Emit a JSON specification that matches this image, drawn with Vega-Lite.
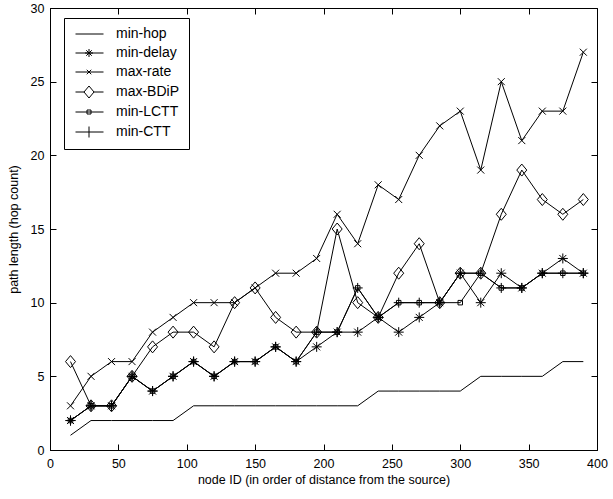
{
  "$schema": "https://vega.github.io/schema/vega-lite/v6.json",
  "width": 547,
  "height": 442,
  "autosize": {"type": "none"},
  "padding": {"left": 50, "top": 8, "right": 16, "bottom": 49},
  "background": "white",
  "config": {
    "view": {"stroke": "black", "strokeWidth": 1},
    "font": "Liberation Sans",
    "axis": {
      "labelFont": "Liberation Sans",
      "titleFont": "Liberation Sans",
      "labelFontSize": 12.5,
      "titleFontSize": 12.5,
      "titleFontWeight": "normal",
      "labelColor": "black",
      "titleColor": "black",
      "domainColor": "black",
      "tickColor": "black",
      "tickOpacity": 1,
      "tickWidth": 1,
      "grid": false
    }
  },
  "data": {
    "values": [
      {"node": 15, "series": "min-hop", "len": 1}, {"node": 30, "series": "min-hop", "len": 2}, {"node": 45, "series": "min-hop", "len": 2}, {"node": 60, "series": "min-hop", "len": 2}, {"node": 75, "series": "min-hop", "len": 2}, {"node": 90, "series": "min-hop", "len": 2}, {"node": 105, "series": "min-hop", "len": 3}, {"node": 120, "series": "min-hop", "len": 3}, {"node": 135, "series": "min-hop", "len": 3}, {"node": 150, "series": "min-hop", "len": 3}, {"node": 165, "series": "min-hop", "len": 3}, {"node": 180, "series": "min-hop", "len": 3}, {"node": 195, "series": "min-hop", "len": 3}, {"node": 210, "series": "min-hop", "len": 3}, {"node": 225, "series": "min-hop", "len": 3}, {"node": 240, "series": "min-hop", "len": 4}, {"node": 255, "series": "min-hop", "len": 4}, {"node": 270, "series": "min-hop", "len": 4}, {"node": 285, "series": "min-hop", "len": 4}, {"node": 300, "series": "min-hop", "len": 4}, {"node": 315, "series": "min-hop", "len": 5}, {"node": 330, "series": "min-hop", "len": 5}, {"node": 345, "series": "min-hop", "len": 5}, {"node": 360, "series": "min-hop", "len": 5}, {"node": 375, "series": "min-hop", "len": 6}, {"node": 390, "series": "min-hop", "len": 6},
      {"node": 15, "series": "min-delay", "len": 2}, {"node": 30, "series": "min-delay", "len": 3}, {"node": 45, "series": "min-delay", "len": 3}, {"node": 60, "series": "min-delay", "len": 5}, {"node": 75, "series": "min-delay", "len": 4}, {"node": 90, "series": "min-delay", "len": 5}, {"node": 105, "series": "min-delay", "len": 6}, {"node": 120, "series": "min-delay", "len": 5}, {"node": 135, "series": "min-delay", "len": 6}, {"node": 150, "series": "min-delay", "len": 6}, {"node": 165, "series": "min-delay", "len": 7}, {"node": 180, "series": "min-delay", "len": 6}, {"node": 195, "series": "min-delay", "len": 7}, {"node": 210, "series": "min-delay", "len": 8}, {"node": 225, "series": "min-delay", "len": 8}, {"node": 240, "series": "min-delay", "len": 9}, {"node": 255, "series": "min-delay", "len": 8}, {"node": 270, "series": "min-delay", "len": 9}, {"node": 285, "series": "min-delay", "len": 10}, {"node": 300, "series": "min-delay", "len": 12}, {"node": 315, "series": "min-delay", "len": 10}, {"node": 330, "series": "min-delay", "len": 12}, {"node": 345, "series": "min-delay", "len": 11}, {"node": 360, "series": "min-delay", "len": 12}, {"node": 375, "series": "min-delay", "len": 13}, {"node": 390, "series": "min-delay", "len": 12},
      {"node": 15, "series": "max-rate", "len": 3}, {"node": 30, "series": "max-rate", "len": 5}, {"node": 45, "series": "max-rate", "len": 6}, {"node": 60, "series": "max-rate", "len": 6}, {"node": 75, "series": "max-rate", "len": 8}, {"node": 90, "series": "max-rate", "len": 9}, {"node": 105, "series": "max-rate", "len": 10}, {"node": 120, "series": "max-rate", "len": 10}, {"node": 135, "series": "max-rate", "len": 10}, {"node": 150, "series": "max-rate", "len": 11}, {"node": 165, "series": "max-rate", "len": 12}, {"node": 180, "series": "max-rate", "len": 12}, {"node": 195, "series": "max-rate", "len": 13}, {"node": 210, "series": "max-rate", "len": 16}, {"node": 225, "series": "max-rate", "len": 14}, {"node": 240, "series": "max-rate", "len": 18}, {"node": 255, "series": "max-rate", "len": 17}, {"node": 270, "series": "max-rate", "len": 20}, {"node": 285, "series": "max-rate", "len": 22}, {"node": 300, "series": "max-rate", "len": 23}, {"node": 315, "series": "max-rate", "len": 19}, {"node": 330, "series": "max-rate", "len": 25}, {"node": 345, "series": "max-rate", "len": 21}, {"node": 360, "series": "max-rate", "len": 23}, {"node": 375, "series": "max-rate", "len": 23}, {"node": 390, "series": "max-rate", "len": 27},
      {"node": 15, "series": "max-BDiP", "len": 6}, {"node": 30, "series": "max-BDiP", "len": 3}, {"node": 45, "series": "max-BDiP", "len": 3}, {"node": 60, "series": "max-BDiP", "len": 5}, {"node": 75, "series": "max-BDiP", "len": 7}, {"node": 90, "series": "max-BDiP", "len": 8}, {"node": 105, "series": "max-BDiP", "len": 8}, {"node": 120, "series": "max-BDiP", "len": 7}, {"node": 135, "series": "max-BDiP", "len": 10}, {"node": 150, "series": "max-BDiP", "len": 11}, {"node": 165, "series": "max-BDiP", "len": 9}, {"node": 180, "series": "max-BDiP", "len": 8}, {"node": 195, "series": "max-BDiP", "len": 8}, {"node": 210, "series": "max-BDiP", "len": 15}, {"node": 225, "series": "max-BDiP", "len": 10}, {"node": 240, "series": "max-BDiP", "len": 9}, {"node": 255, "series": "max-BDiP", "len": 12}, {"node": 270, "series": "max-BDiP", "len": 14}, {"node": 285, "series": "max-BDiP", "len": 10}, {"node": 300, "series": "max-BDiP", "len": 12}, {"node": 315, "series": "max-BDiP", "len": 12}, {"node": 330, "series": "max-BDiP", "len": 16}, {"node": 345, "series": "max-BDiP", "len": 19}, {"node": 360, "series": "max-BDiP", "len": 17}, {"node": 375, "series": "max-BDiP", "len": 16}, {"node": 390, "series": "max-BDiP", "len": 17},
      {"node": 15, "series": "min-LCTT", "len": 2}, {"node": 30, "series": "min-LCTT", "len": 3}, {"node": 45, "series": "min-LCTT", "len": 3}, {"node": 60, "series": "min-LCTT", "len": 5}, {"node": 75, "series": "min-LCTT", "len": 4}, {"node": 90, "series": "min-LCTT", "len": 5}, {"node": 105, "series": "min-LCTT", "len": 6}, {"node": 120, "series": "min-LCTT", "len": 5}, {"node": 135, "series": "min-LCTT", "len": 6}, {"node": 150, "series": "min-LCTT", "len": 6}, {"node": 165, "series": "min-LCTT", "len": 7}, {"node": 180, "series": "min-LCTT", "len": 6}, {"node": 195, "series": "min-LCTT", "len": 8}, {"node": 210, "series": "min-LCTT", "len": 8}, {"node": 225, "series": "min-LCTT", "len": 11}, {"node": 240, "series": "min-LCTT", "len": 9}, {"node": 255, "series": "min-LCTT", "len": 10}, {"node": 270, "series": "min-LCTT", "len": 10}, {"node": 285, "series": "min-LCTT", "len": 10}, {"node": 300, "series": "min-LCTT", "len": 10}, {"node": 315, "series": "min-LCTT", "len": 12}, {"node": 330, "series": "min-LCTT", "len": 11}, {"node": 345, "series": "min-LCTT", "len": 11}, {"node": 360, "series": "min-LCTT", "len": 12}, {"node": 375, "series": "min-LCTT", "len": 12}, {"node": 390, "series": "min-LCTT", "len": 12},
      {"node": 15, "series": "min-CTT", "len": 2}, {"node": 30, "series": "min-CTT", "len": 3}, {"node": 45, "series": "min-CTT", "len": 3}, {"node": 60, "series": "min-CTT", "len": 5}, {"node": 75, "series": "min-CTT", "len": 4}, {"node": 90, "series": "min-CTT", "len": 5}, {"node": 105, "series": "min-CTT", "len": 6}, {"node": 120, "series": "min-CTT", "len": 5}, {"node": 135, "series": "min-CTT", "len": 6}, {"node": 150, "series": "min-CTT", "len": 6}, {"node": 165, "series": "min-CTT", "len": 7}, {"node": 180, "series": "min-CTT", "len": 6}, {"node": 195, "series": "min-CTT", "len": 8}, {"node": 210, "series": "min-CTT", "len": 8}, {"node": 225, "series": "min-CTT", "len": 11}, {"node": 240, "series": "min-CTT", "len": 9}, {"node": 255, "series": "min-CTT", "len": 10}, {"node": 270, "series": "min-CTT", "len": 10}, {"node": 285, "series": "min-CTT", "len": 10}, {"node": 300, "series": "min-CTT", "len": 12}, {"node": 315, "series": "min-CTT", "len": 12}, {"node": 330, "series": "min-CTT", "len": 11}, {"node": 345, "series": "min-CTT", "len": 11}, {"node": 360, "series": "min-CTT", "len": 12}, {"node": 375, "series": "min-CTT", "len": 12}, {"node": 390, "series": "min-CTT", "len": 12}
    ]
  },
  "layer": [
    {
      "mark": {"type": "line", "color": "black", "strokeWidth": 1},
      "encoding": {
        "x": {"field": "node", "type": "quantitative", "scale": {"domain": [0, 400], "nice": false, "zero": false},
              "axis": {"title": "node ID (in order of distance from the source)", "values": [0, 50, 100, 150, 200, 250, 300, 350, 400], "labelFlush": false, "ticks": true, "tickSize": -6, "labelPadding": 13, "titlePadding": 4}},
        "y": {"field": "len", "type": "quantitative", "scale": {"domain": [0, 30], "nice": false},
              "axis": {"title": "path length (hop count)", "values": [0, 5, 10, 15, 20, 25, 30], "labelFlush": false, "ticks": true, "tickSize": -6, "labelPadding": 12, "titlePadding": 10}},
        "detail": {"field": "series"}
      }
    },
    {
      "mark": {"type": "point", "filled": false, "color": "black", "strokeWidth": 1, "opacity": 1, "size": 100},
      "encoding": {
        "x": {"field": "node", "type": "quantitative", "axis": null},
        "y": {"field": "len", "type": "quantitative", "axis": null},
        "shape": {
          "field": "series", "type": "nominal", "legend": null,
          "scale": {
            "domain": ["min-hop", "min-delay", "max-rate", "max-BDiP", "min-LCTT", "min-CTT"],
            "range": [
              "M0,0L0,0",
              "M-1,0L1,0M0,-1L0,1M-0.7,-0.7L0.7,0.7M-0.7,0.7L0.7,-0.7",
              "M-0.7,-0.7L0.7,0.7M-0.7,0.7L0.7,-0.7",
              "M0,-1.2L1,0L0,1.2L-1,0Z",
              "M-0.45,-0.45L0.45,-0.45L0.45,0.45L-0.45,0.45Z",
              "M-1,0L1,0M0,-1L0,1"
            ]
          }
        }
      }
    },
    {
      "transform": [{"filter": "datum.node < 0"}],
      "mark": {"type": "point", "filled": false, "color": "black", "strokeWidth": 1, "opacity": 1, "size": 100},
      "encoding": {
        "x": {"field": "node", "type": "quantitative", "axis": null},
        "y": {"field": "len", "type": "quantitative", "axis": null},
        "shape": {
          "field": "series", "type": "nominal",
          "scale": {
            "domain": ["min-hop", "min-delay", "max-rate", "max-BDiP", "min-LCTT", "min-CTT"],
            "range": [
              "M-0.9,0L4.7,0",
              "M-0.9,0L4.7,0M1,0L2.6,0M1.8,-0.8L1.8,0.8M1.25,-0.55L2.35,0.55M1.25,0.55L2.35,-0.55",
              "M-0.9,0L4.7,0M1.35,-0.45L2.25,0.45M1.35,0.45L2.25,-0.45",
              "M-0.9,0L0.8,0M2.8,0L4.7,0M1.8,-1.2L2.8,0L1.8,1.2L0.8,0Z",
              "M-0.9,0L4.7,0M1.4,-0.4L2.2,-0.4L2.2,0.4L1.4,0.4Z",
              "M-0.9,0L4.7,0M1.8,-1.1L1.8,1.1"
            ]
          },
          "legend": {
            "title": null,
            "orient": "none",
            "legendX": 14,
            "legendY": 10,
            "padding": 9,
            "strokeColor": "black",
            "fillColor": "white",
            "symbolSize": 100,
            "symbolStrokeWidth": 1,
            "symbolStrokeColor": "black",
            "symbolFillColor": "transparent",
            "symbolOpacity": 1,
            "labelFont": "Liberation Sans",
            "labelFontSize": 14,
            "labelColor": "black",
            "labelOffset": 29,
            "rowPadding": 5
          }
        }
      }
    },
    {
      "mark": {"type": "point", "opacity": 0},
      "encoding": {
        "x": {"field": "node", "type": "quantitative",
              "axis": {"orient": "top", "labels": false, "title": null, "domain": false, "ticks": true, "tickSize": -6, "values": [0, 50, 100, 150, 200, 250, 300, 350, 400]}},
        "y": {"field": "len", "type": "quantitative",
              "axis": {"orient": "right", "labels": false, "title": null, "domain": false, "ticks": true, "tickSize": -6, "values": [0, 5, 10, 15, 20, 25, 30]}}
      }
    }
  ],
  "resolve": {"axis": {"x": "independent", "y": "independent"}, "scale": {"shape": "independent"}}
}
